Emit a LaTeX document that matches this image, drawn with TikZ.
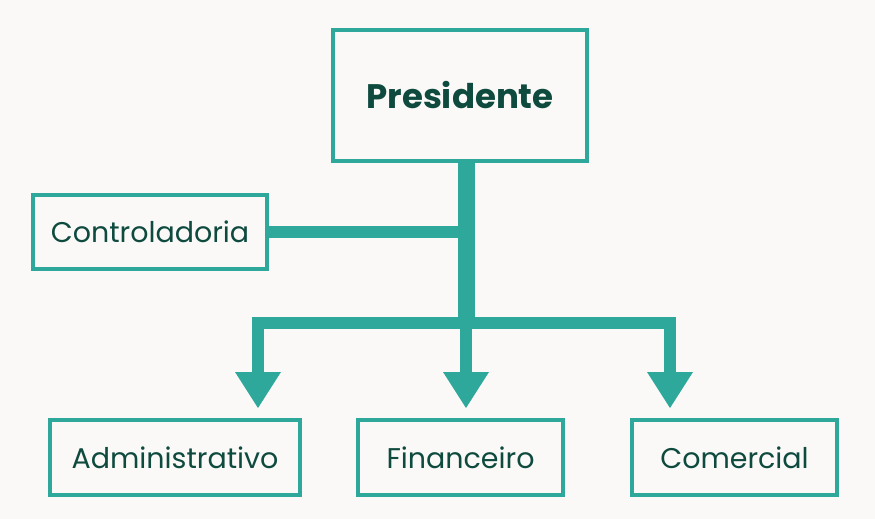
\documentclass[tikz,border=0pt]{standalone}
\usepackage{fontspec}
\usetikzlibrary{calc}
\setmainfont{Poppins}
\begin{document}
\definecolor{teal1}{HTML}{2EA89A}
\definecolor{txt}{HTML}{0E4A3E}
\definecolor{bg}{HTML}{FAF9F7}
\begin{tikzpicture}[x=1pt,y=-1pt,
 box/.style={draw=teal1,line width=4pt,fill=bg,text=txt,inner sep=0pt},
 bar/.style={draw=teal1,line width=12pt},
 head/.style={fill=teal1,draw=none}]
\fill[bg] (0,0) rectangle (875,519);
\useasboundingbox (0,0) rectangle (875,519);
\coordinate (top) at (466,161);
\coordinate (j1) at (466,232);
\coordinate (j2) at (466,323);
\coordinate (la) at (258,323);
\coordinate (ra) at (670,323);
\coordinate (ea) at (258,375);
\coordinate (eb) at (466,375);
\coordinate (ec) at (670,375);
\draw[teal1,line width=17pt] (top) -- (466,329);
\draw[bar] (267,232) -- (j1);
\draw[bar,line cap=rect] (la) -- (ra);
\draw[bar] (la) -- (ea);
\draw[bar] (j2) -- (eb);
\draw[bar] (ra) -- (ec);
\foreach \c in {ea,eb,ec}{
 \fill[teal1] ($(\c)+(-23,-3)$) -- ($(\c)+(23,-3)$) -- ($(\c)+(0,33)$) -- cycle;}
\node[box,minimum width=254pt,minimum height=131pt] (pres) at (460,95.5) {\fontsize{34}{40}\selectfont\bfseries Presidente};
\node[box,minimum width=234pt,minimum height=74pt] (ctrl) at (150,232) {\fontsize{28.5}{32}\selectfont Controladoria};
\node[box,minimum width=250pt,minimum height=75pt] (adm) at (175,457.5) {\fontsize{28.5}{32}\selectfont Administrativo};
\node[box,minimum width=205pt,minimum height=75pt] (fin) at (460.5,457.5) {\fontsize{28.5}{32}\selectfont Financeiro};
\node[box,minimum width=205pt,minimum height=75pt] (com) at (734.5,457.5) {\fontsize{28.5}{32}\selectfont Comercial};
\end{tikzpicture}
\end{document}
